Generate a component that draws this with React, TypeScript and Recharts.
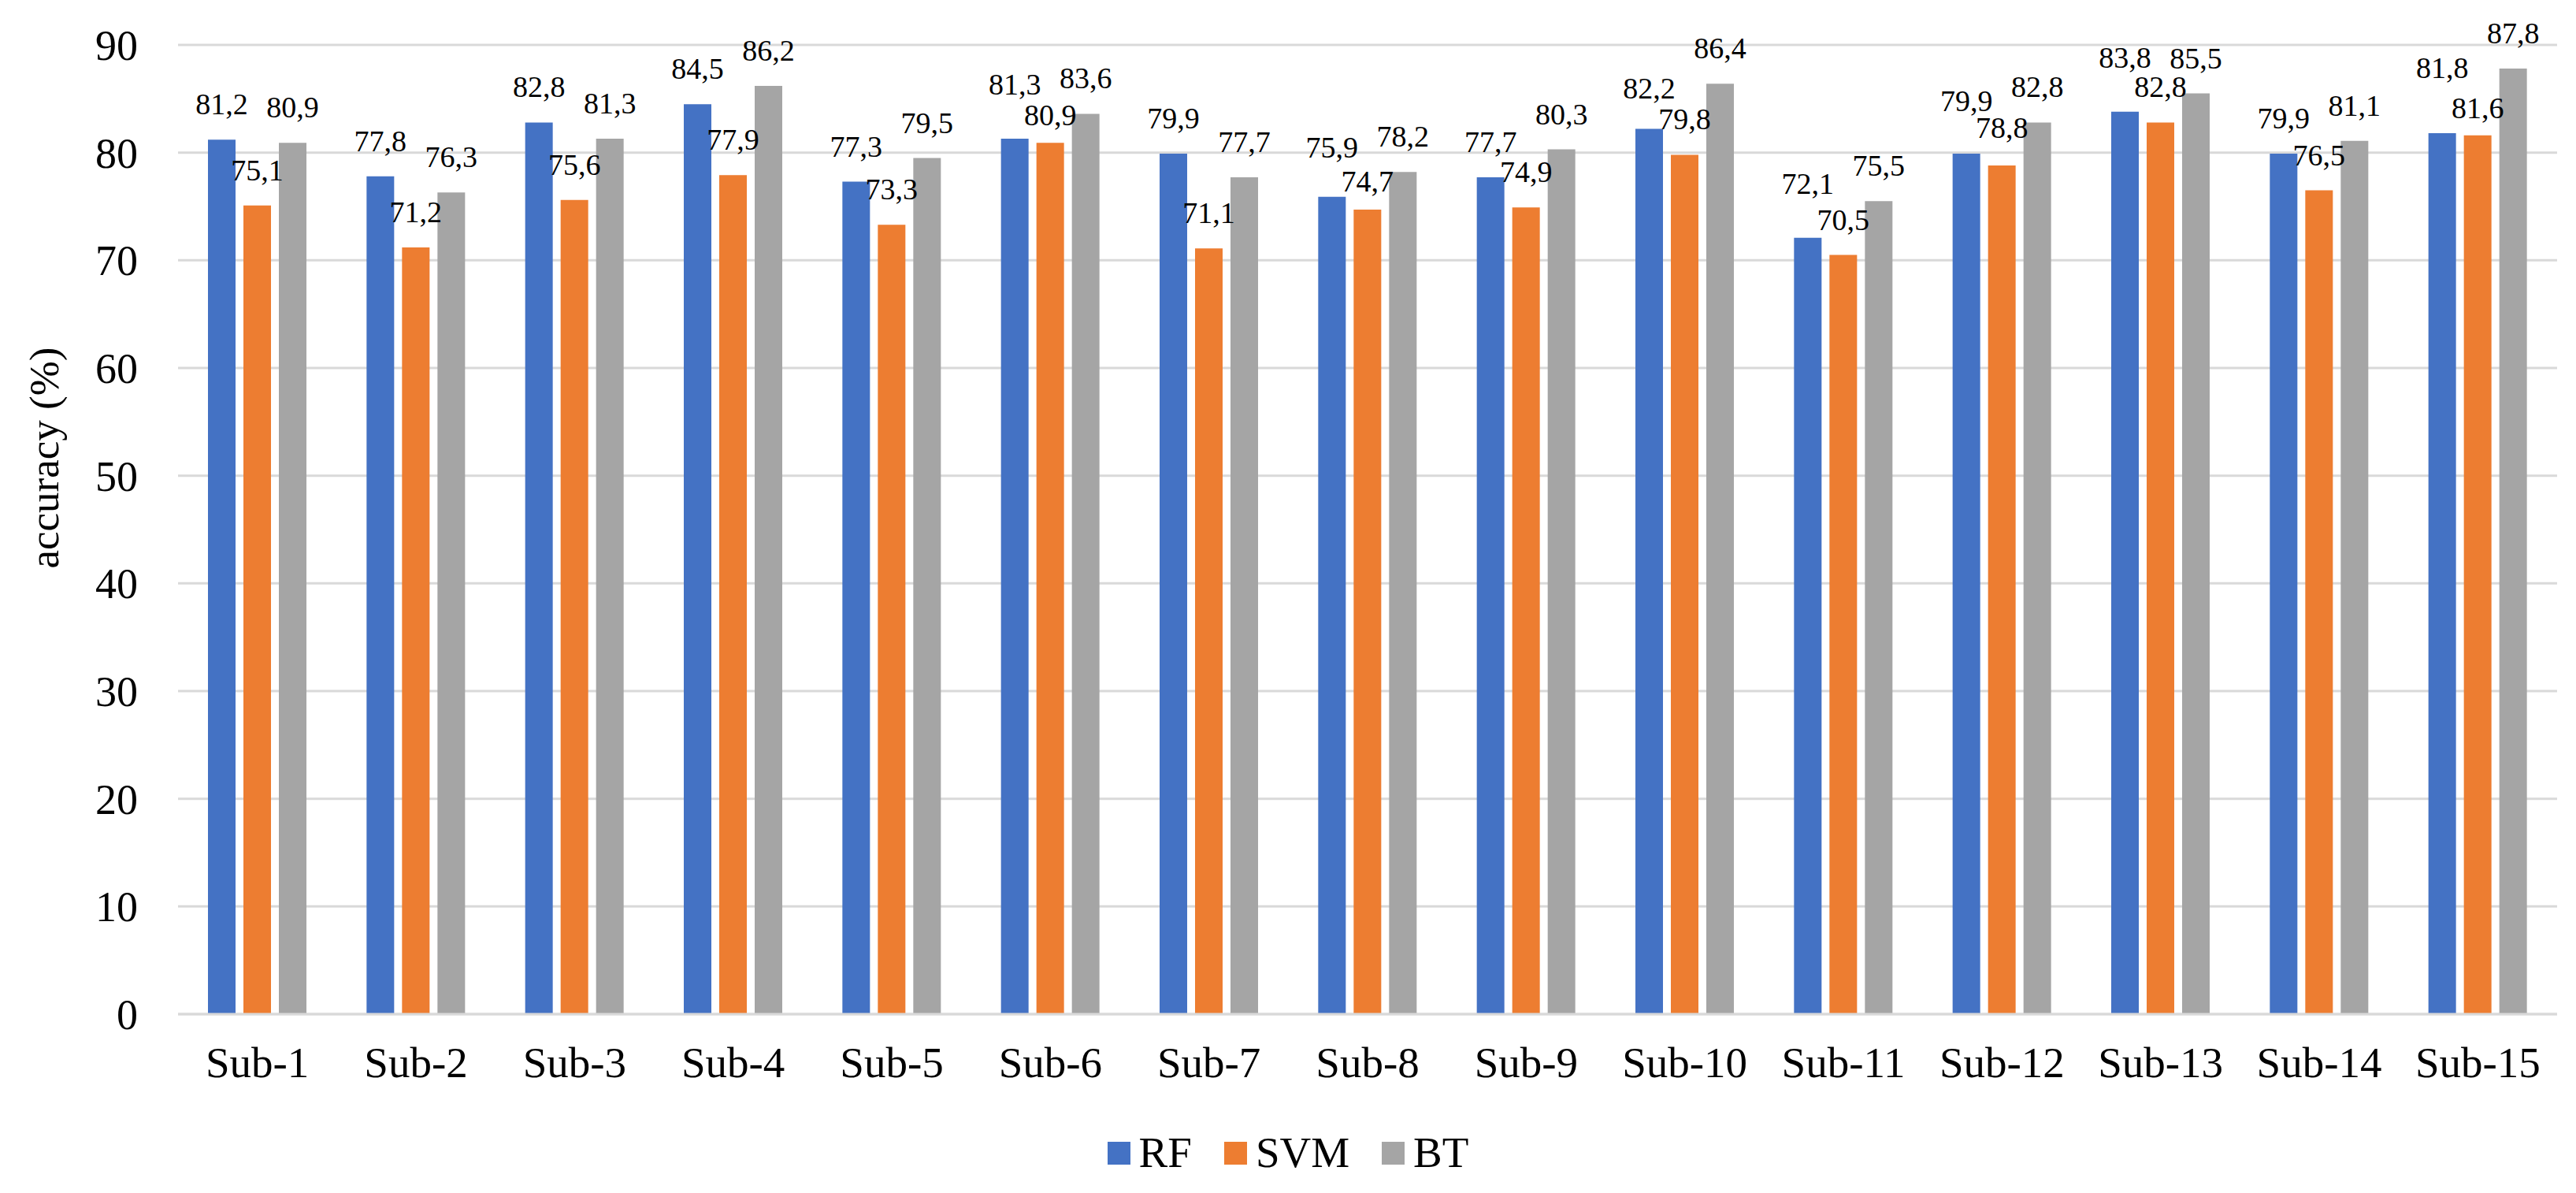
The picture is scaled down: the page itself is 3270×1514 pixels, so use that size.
import React from 'react';
import { BarChart, Bar, XAxis, YAxis, CartesianGrid, Legend, LabelList } from 'recharts';

const categories = ['Sub-1','Sub-2','Sub-3','Sub-4','Sub-5','Sub-6','Sub-7','Sub-8','Sub-9','Sub-10','Sub-11','Sub-12','Sub-13','Sub-14','Sub-15'];
const rfValues = [81.2, 77.8, 82.8, 84.5, 77.3, 81.3, 79.9, 75.9, 77.7, 82.2, 72.1, 79.9, 83.8, 79.9, 81.8];
const svmValues = [75.1, 71.2, 75.6, 77.9, 73.3, 80.9, 71.1, 74.7, 74.9, 79.8, 70.5, 78.8, 82.8, 76.5, 81.6];
const btValues = [80.9, 76.3, 81.3, 86.2, 79.5, 83.6, 77.7, 78.2, 80.3, 86.4, 75.5, 82.8, 85.5, 81.1, 87.8];
const yTicks = [0, 10, 20, 30, 40, 50, 60, 70, 80, 90];

// extra label nudges (px) used by the original to avoid overlapping value labels
const rfLabelNudge = [0, 0, 0, 0, 0, 24, 0, 18, 0, 7, 24, 22, 24, 0, 38];
const svmLabelNudge = [0, 0, 0, 0, 0, -10, 0, -9, 0, 0, 0, 3, 0, 0, -10];
const btLabelNudge = [0, 0, 0, 0, 0, 0, 0, 0, 0, 0, 0, 0, 0, 0, 0];

const seriesNames = ['RF', 'SVM', 'BT'];
const seriesColors = ['#4472C4', '#ED7D31', '#A5A5A5'];
const seriesNudges = [rfLabelNudge, svmLabelNudge, btLabelNudge];

const data = categories.map((c, i) => ({ name: c, RF: rfValues[i], SVM: svmValues[i], BT: btValues[i] }));

const FONT = '"Liberation Serif", "Times New Roman", serif';

const fmt = (v: number) => v.toFixed(1).replace('.', ',');

const XTick = (props: any) => {
  const { x, y, payload } = props;
  return (
    <text x={x} y={y + 80} textAnchor="middle" style={{ fontFamily: FONT, fontSize: 55 }} fill="#000">
      {payload.value}
    </text>
  );
};

const YTick = (props: any) => {
  const { x, y, payload } = props;
  return (
    <text x={x - 51} y={y} dy="0.35em" textAnchor="end" style={{ fontFamily: FONT, fontSize: 54 }} fill="#000">
      {payload.value}
    </text>
  );
};

const makeBarLabel = (nudges: number[]) => (props: any) => {
  const { x, y, width, value, index } = props;
  const lift = 32 + (nudges[index] || 0);
  return (
    <text x={x + width / 2} y={y - lift} textAnchor="middle" style={{ fontFamily: FONT, fontSize: 38 }} fill="#000">
      {fmt(value)}
    </text>
  );
};

const YLabel = () => (
  <text x={47} y={573} transform="rotate(-90 47 573)" textAnchor="middle" dy="0.35em" style={{ fontFamily: FONT, fontSize: 53 }} fill="#000">
    accuracy (%)
  </text>
);

const LegendContent = () => (
  <div style={{ display: 'flex', justifyContent: 'center', alignItems: 'center', width: 3254, height: 60, fontFamily: FONT, fontSize: 55, color: '#000' }}>
    {seriesNames.map((n, i) => (
      <div key={n} style={{ display: 'flex', alignItems: 'center', marginRight: i < seriesNames.length - 1 ? 41 : 0 }}>
        <div style={{ width: 29, height: 29, background: seriesColors[i], marginRight: 11 }} />
        <span style={{ lineHeight: '60px' }}>{n}</span>
      </div>
    ))}
  </div>
);

export default function App() {
  return (
    <div style={{ width: 3254, height: 1498 }}>
      <BarChart
        width={3254}
        height={1498}
        data={data}
        margin={{ top: 49, right: 16, left: 0, bottom: 149 }}
        barGap={10}
        barSize={35}
      >
        <CartesianGrid vertical={false} stroke="#D9D9D9" strokeWidth={3} />
        <XAxis
          dataKey="name"
          tick={<XTick />}
          tickLine={false}
          tickSize={0}
          tickMargin={0}
          axisLine={{ stroke: '#D9D9D9', strokeWidth: 3 }}
          interval={0}
          height={10}
        />
        <YAxis
          domain={[0, 90]}
          ticks={yTicks}
          tick={<YTick />}
          tickLine={false}
          tickSize={0}
          tickMargin={0}
          axisLine={false}
          width={218}
          label={<YLabel />}
        />
        <Legend
          content={<LegendContent />}
          wrapperStyle={{ position: 'absolute', left: 0, top: 1425, width: 3254, height: 60 }}
        />
        {seriesNames.map((n, i) => (
          <Bar key={n} dataKey={n} fill={seriesColors[i]} isAnimationActive={false}>
            <LabelList dataKey={n} content={makeBarLabel(seriesNudges[i])} />
          </Bar>
        ))}
      </BarChart>
    </div>
  );
}
